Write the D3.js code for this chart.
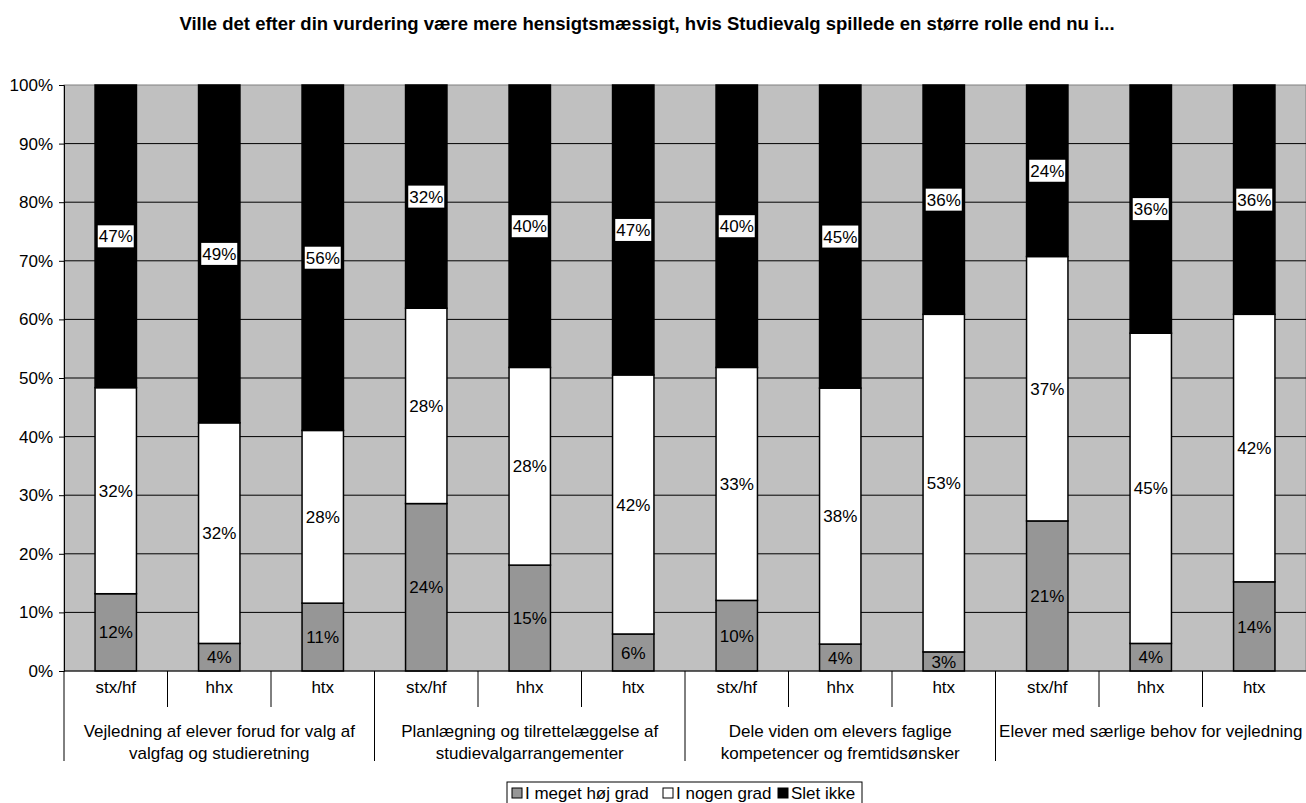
<!DOCTYPE html>
<html>
<head>
<meta charset="utf-8">
<script src="https://cdn.jsdelivr.net/npm/d3@7"></script>
<style>
  body { margin: 0; background: #fff; }
  svg { display: block; font-family: Arial, "Liberation Sans", sans-serif; }
</style>
</head>
<body>
<div id="chart"></div>
<script>
// chart values (label percentages; bars are normalised to 100%)
const groups = [
  ['Vejledning af elever forud for valg af', 'valgfag og studieretning'],
  ['Planlægning og tilrettelæggelse af', 'studievalgarrangementer'],
  ['Dele viden om elevers faglige', 'kompetencer og fremtidsønsker'],
  ['Elever med særlige behov for vejledning']
];
const schools = ['stx/hf', 'hhx', 'htx'];
const seriesNames = ['I meget høj grad', 'I nogen grad', 'Slet ikke'];
const hoej  = [12, 4, 11, 24, 15, 6, 10, 4, 3, 21, 4, 14];
const nogen = [32, 32, 28, 28, 28, 42, 33, 38, 53, 37, 45, 42];
const slet  = [47, 49, 56, 32, 40, 47, 40, 45, 36, 24, 36, 36];
const yTicks = [0, 0.1, 0.2, 0.3, 0.4, 0.5, 0.6, 0.7, 0.8, 0.9, 1];
const title = 'Ville det efter din vurdering være mere hensigtsmæssigt, hvis Studievalg spillede en større rolle end nu i...';

const colors = ['#969696', '#ffffff', '#000000'];
const FS = 17;

const W = 1306, H = 803;
const margin = { left: 64, right: 0, top: 85, bottom: 132 };
const plotW = W - margin.left - margin.right;
const plotH = H - margin.top - margin.bottom;

const rows = hoej.map((v, i) => ({
  key: i,
  school: schools[i % 3],
  group: Math.floor(i / 3),
  s0: v, s1: nogen[i], s2: slet[i]
}));

const stack = d3.stack().keys(['s0', 's1', 's2']).offset(d3.stackOffsetExpand);
const stacked = stack(rows);

const x = d3.scaleBand().domain(rows.map(r => r.key)).range([0, plotW]).paddingInner(0.6).paddingOuter(0.3);
const y = d3.scaleLinear().domain([0, 1]).range([plotH, 0]);

const svg = d3.select('#chart').append('svg').attr('width', W).attr('height', H);

svg.append('text')
  .attr('x', 647).attr('y', 30)
  .attr('text-anchor', 'middle')
  .attr('font-size', 18.5).attr('font-weight', 'bold')
  .text(title);

const g = svg.append('g').attr('transform', `translate(${margin.left},${margin.top})`);

// plot background
g.append('rect').attr('width', plotW).attr('height', plotH)
  .attr('fill', '#c0c0c0').attr('stroke', '#808080').attr('stroke-width', 1);

// gridlines
g.selectAll('.grid').data(yTicks.slice(1, -1)).enter().append('line')
  .attr('x1', 0).attr('x2', plotW)
  .attr('y1', d => y(d)).attr('y2', d => y(d))
  .attr('stroke', '#000').attr('stroke-width', 1);

// y axis
const yAxis = d3.axisLeft(y).tickValues(yTicks).tickFormat(d3.format('.0%')).tickSize(5).tickPadding(6);
const ya = g.append('g').call(yAxis);
ya.select('.domain').attr('stroke', '#000');
ya.selectAll('text').attr('font-size', FS).attr('fill', '#000').attr('font-family', 'Arial, "Liberation Sans", sans-serif');

// bars
const layers = g.selectAll('.layer').data(stacked).enter().append('g')
  .attr('fill', (d, i) => colors[i]);

layers.selectAll('rect').data(d => d).enter().append('rect')
  .attr('x', d => x(d.data.key))
  .attr('width', x.bandwidth())
  .attr('y', d => y(d[1]))
  .attr('height', d => y(d[0]) - y(d[1]))
  .attr('stroke', '#000').attr('stroke-width', 1.5);

// labels
const raw = [hoej, nogen, slet];
stacked.forEach((layer, li) => {
  layer.forEach((d, i) => {
    const cx = x(d.data.key) + x.bandwidth() / 2;
    const cy = y((d[0] + d[1]) / 2);
    const label = raw[li][i] + '%';
    if (li === 2) {
      g.append('rect')
        .attr('x', cx - 18).attr('y', cy - 11)
        .attr('width', 36).attr('height', 22)
        .attr('fill', '#fff');
    }
    g.append('text')
      .attr('x', cx).attr('y', cy)
      .attr('dy', '0.36em')
      .attr('text-anchor', 'middle')
      .attr('font-size', FS)
      .attr('fill', '#000')
      .text(label);
  });
});

// category axis
const step = plotW / rows.length;
const xa = g.append('g').attr('transform', `translate(0,${plotH})`);
xa.append('line').attr('x1', 0).attr('x2', plotW).attr('y1', 0).attr('y2', 0).attr('stroke', '#000');
rows.forEach((r, i) => {
  const isGroupEdge = i % 3 === 0;
  xa.append('line')
    .attr('x1', i * step).attr('x2', i * step)
    .attr('y1', 0).attr('y2', isGroupEdge ? 90 : 36)
    .attr('stroke', '#000');
  xa.append('text')
    .attr('x', x(r.key) + x.bandwidth() / 2).attr('y', 22)
    .attr('text-anchor', 'middle').attr('font-size', FS)
    .text(r.school);
});
groups.forEach((lines, gi) => {
  const cx = (gi * 3 + 1.5) * step;
  lines.forEach((t, li) => {
    xa.append('text')
      .attr('x', cx).attr('y', 66 + li * 22)
      .attr('text-anchor', 'middle').attr('font-size', FS)
      .text(t);
  });
});

// legend
const lg = svg.append('g').attr('transform', 'translate(507,782)');
lg.append('rect').attr('width', 355).attr('height', 26).attr('fill', '#fff').attr('stroke', '#000');
const legendX = [5, 156, 271];
seriesNames.forEach((name, i) => {
  lg.append('rect').attr('x', legendX[i]).attr('y', 6).attr('width', 10).attr('height', 10)
    .attr('fill', colors[i]).attr('stroke', '#000');
  lg.append('text').attr('x', legendX[i] + 13).attr('y', 11).attr('dy', '0.36em')
    .attr('font-size', FS).text(name);
});
</script>
</body>
</html>
